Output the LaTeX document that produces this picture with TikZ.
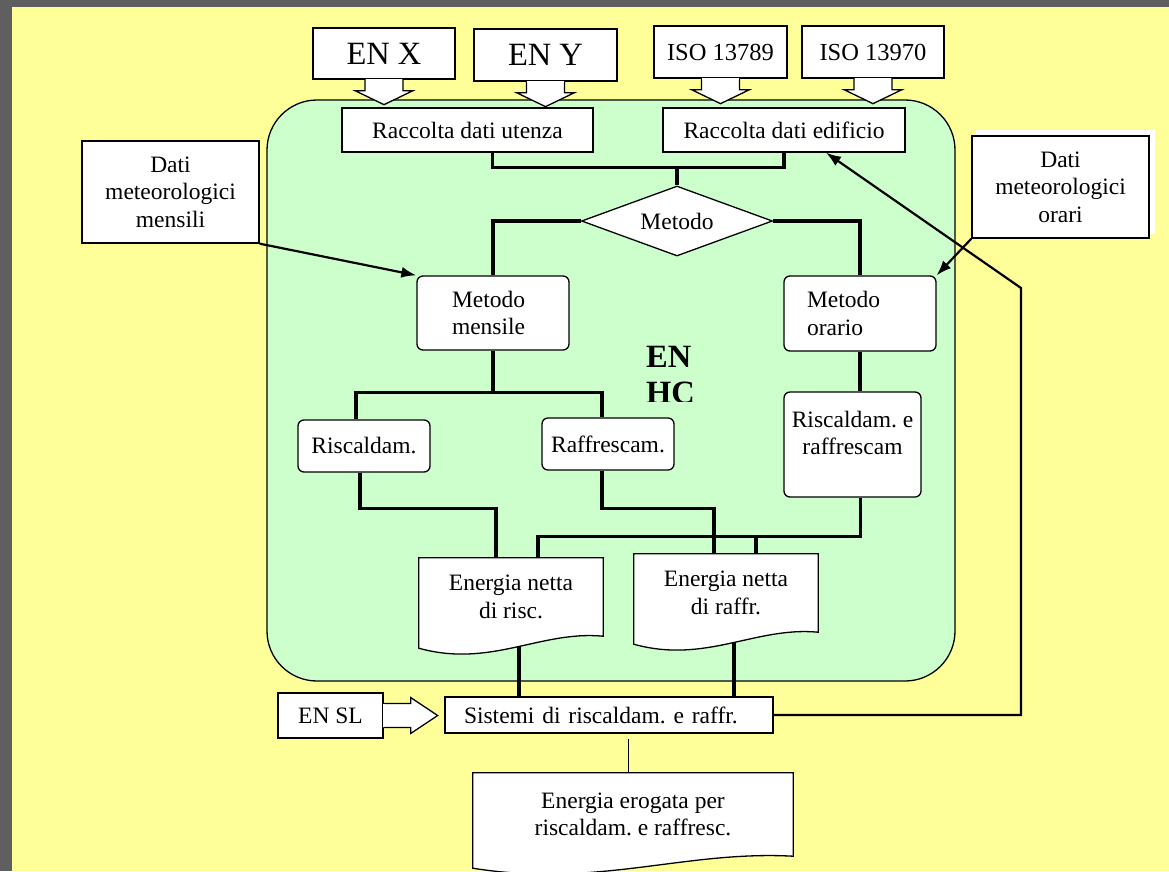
\documentclass[tikz,border=0pt]{standalone}
\usepackage{fontspec}
\setmainfont{Liberation Serif}
\usetikzlibrary{arrows.meta,positioning,calc,shapes.geometric}

\definecolor{slidebg}{RGB}{255,255,153}
\definecolor{hcgreen}{RGB}{204,255,204}
\definecolor{slideframe}{RGB}{95,95,95}

\newcommand{\diagtxt}{\fontsize{23.5pt}{27.5pt}\selectfont}
\newcommand{\diagiso}{\fontsize{24.5pt}{28pt}\selectfont}
\newcommand{\diagbig}{\fontsize{32.5pt}{36pt}\selectfont}
\frenchspacing

\pgfdeclarelayer{back}
\pgfsetlayers{back,main}

% document outline with wavy bottom round a node
\newcommand{\docoutline}[1]{%
  \draw[boxline, fill=white] (#1.north west) -- (#1.north east) -- (#1.south east)
    .. controls ($(#1.south east)!0.34!(#1.south west)+(0,-6)$)
    and ($(#1.south east)!0.61!(#1.south west)+(0,32)$)
    .. ($(#1.south west)+(0,12)$) -- cycle;}

% arrow under a box (down callout)
\newcommand{\calldown}[1]{%
  \filldraw[boxline, fill=white] ($(#1.south)+(-19,0)$) -- ++(0,11) -- ++(-10,0)
    -- ($(#1.south)+(0,25)$) -- ($(#1.south)+(29,11)$) -- ++(-10,0) -- ++(0,-11);
  \fill[white] ($(#1.south)+(-18.2,-1)$) rectangle ($(#1.south)+(18.2,1)$);}

% arrow on the right of a box (right callout)
\newcommand{\callright}[1]{%
  \filldraw[boxline, fill=white] ($(#1.east)+(0,-12)$) -- ++(27,0) -- ++(0,-6)
    -- ($(#1.east)+(54,0)$) -- ($(#1.east)+(27,18)$) -- ++(0,-6) -- ++(-27,0);
  \fill[white] ($(#1.east)+(-1,-11.2)$) rectangle ($(#1.east)+(1,11.2)$);}

\begin{document}
\begin{tikzpicture}[x=1pt, y=-1pt,
    boxline/.style={draw=black, line width=1.3pt},
    databox/.style={boxline, fill=white, font=\diagtxt, align=center},
    rbox/.style={databox, rounded corners=6pt},
    callbox/.style={databox, font=\diagbig},
    isobox/.style={databox, font=\diagiso},
    docbox/.style={font=\diagtxt, align=center, inner sep=0pt},
    decision/.style={diamond, boxline, fill=white, font=\diagtxt, inner sep=0pt},
    conn/.style={line width=3.3pt},
    thinconn/.style={line width=1pt},
    wxarrow/.style={line width=2.2pt, -{Latex[length=15pt,width=11pt]}},
    feed/.style={line width=2.2pt, -{Latex[length=15pt,width=11pt]}}
  ]
  \useasboundingbox (0,0) rectangle (1169,871);

  % Slide and EN HC area
  \begin{pgfonlayer}{back}
    \fill[slideframe] (0,0) rectangle (1169,871);
    \fill[slidebg] (12,7) rectangle (1169,871);
    \draw[boxline, fill=hcgreen, rounded corners=50pt] (267,100) rectangle (955,681);
  \end{pgfonlayer}

  % Standards on top
  \node[callbox, minimum width=142, minimum height=51] (enx) at (384,53.5) {EN X};
  \node[callbox, minimum width=143, minimum height=52] (eny) at (545.5,55) {EN Y};
  \node[isobox, minimum width=133, minimum height=52] (iso1) at (720.5,52) {ISO 13789};
  \node[isobox, minimum width=142, minimum height=52] (iso2) at (873,52) {ISO 13970};
  \calldown{enx}
  \calldown{eny}
  \calldown{iso1}
  \calldown{iso2}

  % Data collection and method choice
  \node[databox, minimum width=251, minimum height=44] (uten) at (467.5,130) {Raccolta dati utenza};
  \node[databox, minimum width=242, minimum height=44] (edif) at (784,130) {Raccolta dati edificio};
  \node[decision, minimum width=191, minimum height=70, aspect=2.7] (met) at (677,221) {Metodo};

  % Weather data
  \node[databox, minimum width=177, minimum height=102] (dmens) at (170.5,192) {Dati\\meteorologici\\mensili};
  \node[databox, minimum width=177, minimum height=102] (dorar) at (1060.5,187) {Dati\\meteorologici\\orari};
  \begin{pgfonlayer}{back}
    \fill[white] ([shift={(5,-5)}]dorar.south west) rectangle ([shift={(5,-5)}]dorar.north east);
  \end{pgfonlayer}

  % Methods
  \node[rbox, align=left, text width=82, inner xsep=35, minimum height=74] (mens) at (493,313) {Metodo\\mensile};
  \node[rbox, align=left, text width=106, inner xsep=23, minimum height=75] (orar) at (860,313.5) {Metodo\\orario};
  \node[rbox, minimum width=132, minimum height=52] (risc) at (364,446) {Riscaldam.};
  \node[rbox, minimum width=132, minimum height=52] (raff) at (608,444) {Raffrescam.};
  \node[rbox, minimum width=137, minimum height=105] (rr) at (852.5,444.5) {Riscaldam. e\\raffrescam\\[-4pt]\mbox{}};

  \begin{scope}
    \clip (600,330) rectangle (760,401);
    \node[font=\diagbig\bfseries, align=left, inner sep=0pt, anchor=north west] (enhc) at (646,346) {EN\\HC};
  \end{scope}

  % Net energy
  \node[docbox, minimum width=184, minimum height=78] (enr) at (511,597) {Energia netta\\di risc.};
  \node[docbox, minimum width=184, minimum height=78] (enf) at (726,593) {Energia netta\\di raffr.};
  \node[docbox, minimum width=320, minimum height=83] (ero) at (633,814.5) {Energia erogata per\\riscaldam. e raffresc.};
  \begin{pgfonlayer}{back}
    \docoutline{enr}
    \docoutline{enf}
    \docoutline{ero}
  \end{pgfonlayer}

  % Systems
  \node[databox, align=left, text width=290, inner xsep=19, minimum height=36] (sist) at (609,715) {Sistemi di riscaldam. e raffr.};
  \node[databox, minimum width=105, minimum height=45] (ensl) at (330.5,715.5) {EN SL};
  \callright{ensl}

  % Connectors
  \draw[conn] ([xshift=25]uten.south) -- ++(0,15) -| (met.north);
  \draw[conn] (edif.south) -- ++(0,15) -| (met.north);
  \draw[conn] (met.west) -| (mens.north);
  \draw[conn] (met.east) -| (orar.north);

  \draw[wxarrow] (dmens.south east) -- (mens.north west);
  \draw[wxarrow] (dorar.south west) -- (orar.north east);

  \draw[conn] (mens.south) -- ++(0,42) -| ([xshift=-8]risc.north);
  \draw[conn] (mens.south) -- ++(0,42) -| ([xshift=-6]raff.north);
  \draw[conn] ([xshift=-4]risc.south) -- ++(0,36) -| ([xshift=-15]enr.north);
  \draw[conn] ([xshift=-6]raff.south) -- ++(0,38) -| ([xshift=-12]enf.north);

  \draw[conn] (orar.south) -- (orar.south |- rr.north);
  \draw[conn] ([xshift=8]rr.south) -- ++(0,39) coordinate (hourjoin) -| ([xshift=27]enr.north);
  \coordinate (enfin) at ([xshift=30]enf.north);
  \draw[conn] (enfin) -- (enfin |- hourjoin);

  \coordinate (enrout) at ([shift={(8,11)}]enr.south);
  \coordinate (enfout) at ([shift={(8,11)}]enf.south);
  \draw[conn] (enrout) -- (enrout |- sist.north);
  \draw[conn] (enfout) -- (enfout |- sist.north);

  \coordinate (sistout) at ([xshift=19]sist.south);
  \draw[thinconn, shorten <=5pt] (sistout) -- (sistout |- ero.north);

  \coordinate (fbbot) at (1021,715);
  \coordinate (fbtop) at (1021,288);
  \draw[feed] (sist.east) -- (fbbot) -- (fbtop) -- ([xshift=42]edif.south);
\end{tikzpicture}
\end{document}
